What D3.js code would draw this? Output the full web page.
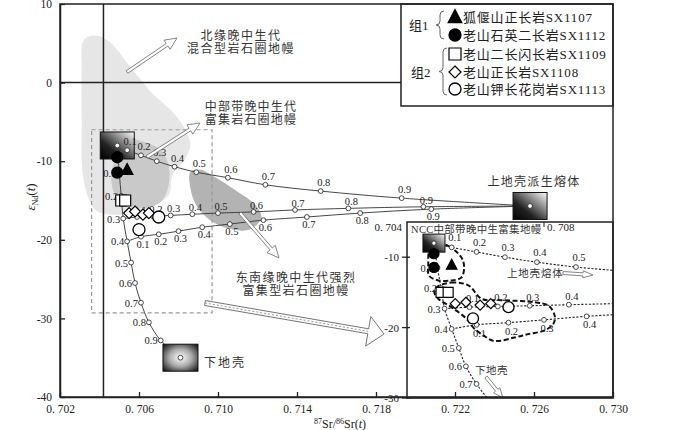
<!DOCTYPE html>
<html><head><meta charset="utf-8">
<script src="https://cdn.jsdelivr.net/npm/d3@7"></script>
<style>
body{margin:0;background:#fff;}
text{font-family:"Liberation Serif","Noto Sans CJK SC",serif;fill:#222;}
.cn{font-family:"Noto Sans CJK SC",sans-serif;fill:#333;}
</style></head><body>
<svg id="chart" width="700" height="430"></svg>
<script>
// end-members (87Sr/86Sr, eNd)
var emPt=[0.7049,-8.0], ucPt=[0.7258,-15.7], lcPt=[0.7081,-35.0];
var ratios=[0.1,0.2,0.3,0.4,0.5,0.6,0.7,0.8,0.9];
// EM -> upper crust melt
var lineA=[[0.7054,-8.6],[0.7061,-9.25],[0.7069,-10.0],[0.7078,-10.7],[0.7089,-11.4],[0.7105,-12.1],[0.7124,-13.0],[0.7152,-13.8],[0.7193,-14.7]];
// EM -> lower crust
var lineLC=[[0.7050,-11.5],[0.7051,-14.4],[0.7052,-17.3],[0.7054,-20.2],[0.7056,-22.9],[0.7058,-25.5],[0.7061,-28.0],[0.7065,-30.5],[0.7071,-32.8]];
// (LC 0.3) -> upper crust melt
var lineB=[[0.7059,-17.1],[0.7067,-17.0],[0.7076,-16.9],[0.7087,-16.75],[0.7100,-16.6],[0.7118,-16.45],[0.7139,-16.2],[0.7166,-16.0],[0.7204,-15.8]];
// (LC 0.4) -> upper crust melt
var lineC=[[0.7061,-19.6],[0.7070,-19.3],[0.7080,-18.9],[0.7092,-18.4],[0.7106,-18.0],[0.7123,-17.5],[0.7145,-17.1],[0.7172,-16.6],[0.7208,-16.1]];

// samples
var sx1107=[[0.7054,-11.1]];
var sx1112=[[0.7049,-9.5],[0.7049,-11.45]];
var sx1109=[[0.7051,-15.0],[0.7053,-15.0]];
var sx1108=[[0.7055,-16.6],[0.7058,-16.4],[0.7062,-16.8],[0.7065,-16.6]];
var sx1113=[[0.7070,-17.1],[0.7060,-18.7]];

// mantle fields
var fieldNorth=[[0.7032,5.4],[0.7038,6.0],[0.7045,5.2],[0.7055,2.2],[0.7066,-1.2],[0.7077,-3.75],[0.7083,-5.8],[0.7086,-7.9],[0.7083,-9.85],[0.7077,-11.75],[0.7075,-14.3],[0.7066,-15.8],[0.7050,-16.8],[0.7038,-16.2],[0.7032,-12.4],[0.7031,-4.8],[0.7031,1.6]];
var fieldCentral=[[0.7055,-7.3],[0.7063,-7.6],[0.7071,-8.6],[0.7075,-10.5],[0.7075,-13.0],[0.7072,-14.9],[0.7065,-15.9],[0.7055,-15.6],[0.7048,-14.3],[0.7046,-11.75],[0.7049,-9.2]];
var fieldSE=[[0.7086,-11.4],[0.7091,-11.1],[0.7099,-12.1],[0.7110,-13.9],[0.7119,-15.6],[0.7122,-17.2],[0.7116,-18.7],[0.7106,-18.6],[0.7096,-17.5],[0.7089,-15.6],[0.7086,-13.4]];
// group envelopes (inset)
var env1=[[0.70485,-8.0],[0.7053,-8.4],[0.70567,-10.0],[0.70575,-11.4],[0.70567,-12.9],[0.70539,-13.3],[0.70502,-13.3],[0.70476,-12.6],[0.70474,-10.9],[0.70476,-9.0]];
var env2=[[0.70496,-14.3],[0.70539,-13.6],[0.70587,-14.0],[0.70624,-15.9],[0.7068,-16.1],[0.70774,-16.4],[0.70813,-16.9],[0.7083,-18.3],[0.70827,-19.4],[0.70802,-20.4],[0.70757,-20.9],[0.70717,-21.4],[0.7066,-21.9],[0.70629,-21.1],[0.70601,-20.0],[0.70581,-18.7],[0.70539,-17.1],[0.70502,-15.9],[0.70491,-15.0]];

var boxX=[0.7036,0.7097], boxE=[-6.0,-29.3];
var xTicks=[0.702,0.706,0.710,0.714,0.718,0.722,0.726,0.730];
var yTicks=[-40,-30,-20,-10,0,10];
var yTicksInset=[-10,-20,-30];

var svg=d3.select("#chart");
var x=d3.scaleLinear().domain([0.702,0.730]).range([60,613]);
var y=d3.scaleLinear().domain([-40,10]).range([397,4]);
var xi=d3.scaleLinear().domain([0.704,0.708]).range([402,544]);
var yi=d3.scaleLinear().domain([-30,-5]).range([398,222]);

var defs=svg.append("defs");
function linGrad(id){
  var g=defs.append("linearGradient").attr("id",id).attr("x1",0).attr("y1",1).attr("x2",1).attr("y2",0);
  g.append("stop").attr("offset",0).attr("stop-color","#000");
  g.append("stop").attr("offset",0.35).attr("stop-color","#222");
  g.append("stop").attr("offset",1).attr("stop-color","#fff");
}
linGrad("gEM");
var rg=defs.append("radialGradient").attr("id","gLC").attr("r",0.72);
rg.append("stop").attr("offset",0).attr("stop-color","#fff");
rg.append("stop").attr("offset",0.45).attr("stop-color","#aaa");
rg.append("stop").attr("offset",1).attr("stop-color","#000");
defs.append("clipPath").attr("id","cMain").append("rect").attr("x",60).attr("y",4).attr("width",553).attr("height",393);
defs.append("clipPath").attr("id","cIn").append("rect").attr("x",407).attr("y",222).attr("width",206).attr("height",176);

var blob=function(sx,sy){return d3.line().x(d=>sx(d[0])).y(d=>sy(d[1])).curve(d3.curveCatmullRomClosed.alpha(0.5));};
var curve=function(sx,sy){return d3.line().x(d=>sx(d[0])).y(d=>sy(d[1])).curve(d3.curveCatmullRom.alpha(0.5));};

var main=svg.append("g").attr("clip-path","url(#cMain)");
main.append("path").attr("d",blob(x,y)(fieldNorth)).attr("fill","#e6e6e6");
main.append("path").attr("d",blob(x,y)(fieldCentral)).attr("fill","#c9c9c9");
main.append("path").attr("d",blob(x,y)(fieldSE)).attr("fill","#b3b3b3");

main.append("rect").attr("x",x(boxX[0])).attr("y",y(boxE[0])).attr("width",x(boxX[1])-x(boxX[0])).attr("height",y(boxE[1])-y(boxE[0]))
  .attr("fill","none").attr("stroke","#999").attr("stroke-width",1.2).attr("stroke-dasharray","4,3");

main.append("line").attr("x1",60).attr("x2",613).attr("y1",y(0)).attr("y2",y(0)).attr("stroke","#222").attr("stroke-width",1.5);
main.append("line").attr("x1",x(0.7042)).attr("x2",x(0.7042)).attr("y1",4).attr("y2",397).attr("stroke","#222").attr("stroke-width",1.5);

function hollowArrow(g,x1,y1,x2,y2,w,hl,hw,col){
  var dx=x2-x1,dy=y2-y1,L=Math.sqrt(dx*dx+dy*dy),ux=dx/L,uy=dy/L,nx=-uy,ny=ux;
  var bx=x2-ux*hl,by=y2-uy*hl;
  var p=[[x1+nx*w/2,y1+ny*w/2],[bx+nx*w/2,by+ny*w/2],[bx+nx*hw/2,by+ny*hw/2],[x2,y2],[bx-nx*hw/2,by-ny*hw/2],[bx-nx*w/2,by-ny*w/2],[x1-nx*w/2,y1-ny*w/2]];
  g.append("path").attr("d","M"+p.join("L")+"Z").attr("fill","#fff").attr("stroke",col||"#777").attr("stroke-width",0.9);
  return [bx,by];
}

function drawLines(g,sx,sy,style){
  var lg=curve(sx,sy);
  var sets=[[emPt].concat(lineA,[ucPt]),[emPt].concat(lineLC,[lcPt]),[lineLC[2]].concat(lineB,[ucPt]),[lineLC[3]].concat(lineC,[ucPt])];
  sets.forEach(function(s){
    g.append("path").attr("d",lg(s)).attr("fill","none").attr("stroke",style.col).attr("stroke-width",style.w).attr("stroke-dasharray",style.dash);
  });
}
function tag(g,sx,sy,pts,dx,dy,anchor,fs,box){
  pts.forEach(function(d,i){
    var cx=sx(d[0]),cy=sy(d[1]);
    if(box && (cx<box[0]||cx>box[1]||cy<box[2]||cy>box[3])) return;
    g.append("circle").attr("cx",cx).attr("cy",cy).attr("r",2.4).attr("fill","#fff").attr("stroke","#333").attr("stroke-width",0.9);
    g.append("text").attr("x",cx+dx).attr("y",cy+dy).attr("text-anchor",anchor).attr("font-size",fs).text(ratios[i]);
  });
}
function sym(g,type,cx,cy,s){
  var h=s/2;
  if(type=="dot"||type=="ring"){
    g.append("circle").attr("cx",cx).attr("cy",cy).attr("r",h).attr("fill",type=="dot"?"#000":"#fff").attr("stroke","#000").attr("stroke-width",1.3);
    return;
  }
  var p;
  if(type=="tri") p="M"+cx+","+(cy-h*1.15)+"L"+(cx+h*1.05)+","+(cy+h*0.85)+"L"+(cx-h*1.05)+","+(cy+h*0.85)+"Z";
  if(type=="sq") p="M"+(cx-h)+","+(cy-h)+"h"+s+"v"+s+"h"+(-s)+"Z";
  if(type=="dia") p="M"+cx+","+(cy-h)+"L"+(cx+h)+","+cy+"L"+cx+","+(cy+h)+"L"+(cx-h)+","+cy+"Z";
  g.append("path").attr("d",p).attr("fill",type=="tri"?"#000":"#fff").attr("stroke","#000").attr("stroke-width",1.2);
}
function samples(g,sx,sy,s){
  [["sq",sx1109],["dia",sx1108],["ring",sx1113],["dot",sx1112],["tri",sx1107]].forEach(function(t){
    t[1].forEach(function(d){ sym(g,t[0],sx(d[0]),sy(d[1]),t[0]=="ring"?s+1:s); });
  });
}

// main mixing lines
drawLines(main,x,y,{col:"#333",w:0.9,dash:null});
function endBox(g,cx,cy,w,h,fill){
  g.append("rect").attr("x",cx-w/2).attr("y",cy-h/2).attr("width",w).attr("height",h).attr("fill",fill).attr("stroke","#111").attr("stroke-width",1);
}
endBox(main,x(emPt[0]),y(emPt[1]),34,27,"url(#gEM)");
endBox(main,x(ucPt[0]),y(ucPt[1]),34,27,"url(#gEM)");
endBox(main,x(lcPt[0]),y(lcPt[1]),35,27,"url(#gLC)");
[emPt,ucPt,lcPt].forEach(function(d){
  main.append("circle").attr("cx",x(d[0])).attr("cy",y(d[1])).attr("r",2.4).attr("fill","#fff").attr("stroke","#333").attr("stroke-width",0.9);
});
tag(main,x,y,lineA,3,-5,"middle",10.5);
tag(main,x,y,lineB,3,-3,"middle",10.5);
tag(main,x,y,lineC,2,11,"middle",10.5);
tag(main,x,y,lineLC,-3,4,"end",10.5);
samples(main,x,y,11);

// annotations
function cnText(g,cx,by,str,fs,ls,anchor){
  g.append("text").attr("class","cn").attr("x",cx).attr("y",by).attr("text-anchor",anchor||"middle").attr("font-size",fs).attr("letter-spacing",ls).text(str);
}
var ann=svg.append("g");
cnText(ann,241,40,"北缘晚中生代",12,1.5);
cnText(ann,241,53,"混合型岩石圈地幔",12,1.5);
hollowArrow(ann,127,72,177,38,3,12,11);
cnText(ann,251,111,"中部带晚中生代",12,1.2);
cnText(ann,251,124,"富集岩石圈地幔",12,1.2);
hollowArrow(ann,147,157,200,123,3,12,11);
cnText(ann,296,282,"东南缘晚中生代强烈",12,1.4);
cnText(ann,296,295,"富集型岩石圈地幔",12,1.4);
hollowArrow(ann,240,213,279,258,3,12,11);
cnText(ann,534,186,"上地壳派生熔体",12,1.3);
cnText(ann,204,367,"下地壳",12,2,"start");
var b=hollowArrow(ann,205,303,384,334,5,16,30,"#666");
ann.append("line").attr("x1",205).attr("y1",303).attr("x2",b[0]).attr("y2",b[1]).attr("stroke","#999").attr("stroke-dasharray","2,2").attr("stroke-width",1);

// inset
var inset=svg.append("g");
inset.append("rect").attr("x",407).attr("y",222).attr("width",206).attr("height",176).attr("fill","#fff");
var ic=inset.append("g").attr("clip-path","url(#cIn)");
drawLines(ic,xi,yi,{col:"#222",w:1.1,dash:"2.2,1.6"});
[env1,env2].forEach(function(e){
  ic.append("path").attr("d",blob(xi,yi)(e)).attr("fill","none").attr("stroke","#111").attr("stroke-width",2).attr("stroke-dasharray","5,2.5");
});
endBox(ic,xi(emPt[0]),yi(emPt[1]),22,18,"url(#gEM)");
ic.append("circle").attr("cx",xi(emPt[0])).attr("cy",yi(emPt[1])).attr("r",2.2).attr("fill","#fff").attr("stroke","#333");
var ib=[407,613,222,398];
tag(ic,xi,yi,lineA,3,-6,"middle",10.5,ib);
tag(ic,xi,yi,lineB,3,-5,"middle",10.5,ib);
tag(ic,xi,yi,lineC,3,12,"middle",10.5,ib);
tag(ic,xi,yi,lineLC,-4,4,"end",10.5,ib);
samples(ic,xi,yi,10);
cnText(inset,411,233,"NCC中部带晚中生富集地幔",10.5,0.3,"start");
inset.select("text:last-child").style("font-family","'Liberation Serif','Noto Sans CJK SC'");
cnText(inset,507,277,"上地壳熔体",10.5,0.8,"start");
hollowArrow(inset,563,273,593,275,3,10,7);
cnText(inset,475,374,"下地壳",10.5,0.5,"start");
hollowArrow(inset,486,377,503,398,3,10,8);
inset.append("rect").attr("x",407).attr("y",222).attr("width",206).attr("height",176).attr("fill","none").attr("stroke","#222").attr("stroke-width",1.5);
yTicksInset.forEach(function(t){
  inset.append("line").attr("x1",402).attr("x2",410).attr("y1",yi(t)).attr("y2",yi(t)).attr("stroke","#222").attr("stroke-width",1.3);
  inset.append("text").attr("x",399).attr("y",yi(t)+4).attr("text-anchor","end").attr("font-size",11).text(t);
});
inset.append("line").attr("x1",xi(0.708)).attr("x2",xi(0.708)).attr("y1",222).attr("y2",227).attr("stroke","#222");
inset.append("text").attr("x",xi(0.704)).attr("y",231).attr("text-anchor","end").attr("font-size",11).text("0. 704");
inset.append("text").attr("x",xi(0.708)+3).attr("y",231).attr("font-size",11).text("0. 708");

// legend
var legendItems=[["tri","狐偃山正长岩SX1107"],["dot","老山石英二长岩SX1112"],["sq","老山二长闪长岩SX1109"],["dia","老山正长岩SX1108"],["ring","老山钾长花岗岩SX1113"]];
var lg=svg.append("g");
lg.append("rect").attr("x",401).attr("y",4).attr("width",212).attr("height",102).attr("fill","#fff").attr("stroke","#222").attr("stroke-width",1.5);
var rowY=[17,35,54,72,89];
legendItems.forEach(function(it,i){
  sym(lg,it[0],455,rowY[i],it[0]=="tri"?13:12);
  lg.append("text").attr("x",463).attr("y",rowY[i]+5).attr("font-size",13).attr("letter-spacing",0.8).text(it[1]);
});
function brace(g,bx,y1,y2,d){
  var ym=(y1+y2)/2;
  var p="M"+(bx+d)+","+y1+"Q"+bx+","+y1+" "+bx+","+(y1+d)+"L"+bx+","+(ym-d)+"Q"+bx+","+ym+" "+(bx-d)+","+ym+
        "Q"+bx+","+ym+" "+bx+","+(ym+d)+"L"+bx+","+(y2-d)+"Q"+bx+","+y2+" "+(bx+d)+","+y2;
  g.append("path").attr("d",p).attr("fill","none").attr("stroke","#666").attr("stroke-width",1);
}
brace(lg,440,11,39,4);
brace(lg,443,48,95,4);
lg.append("text").attr("x",409).attr("y",30).attr("font-size",13).text("组1");
lg.append("text").attr("x",411).attr("y",77).attr("font-size",13).text("组2");

// axes and frame
svg.append("rect").attr("x",60).attr("y",4).attr("width",553).attr("height",393).attr("fill","none").attr("stroke","#222").attr("stroke-width",1.5);
var xa=svg.append("g").attr("transform","translate(0,397)")
  .call(d3.axisBottom(x).tickValues(xTicks).tickSizeInner(-5).tickSizeOuter(0).tickPadding(8).tickFormat(d=>"0. "+d3.format(".3f")(d).slice(2)));
var ya=svg.append("g").attr("transform","translate(60,0)")
  .call(d3.axisLeft(y).tickValues(yTicks).tickSizeInner(-5).tickSizeOuter(0).tickPadding(8).tickFormat(d=>String(d)));
[xa,ya].forEach(function(a){
  a.select(".domain").attr("stroke","#222").attr("stroke-width",1.5);
  a.selectAll(".tick line").attr("stroke","#222").attr("stroke-width",1.3);
  a.selectAll("text").attr("font-family","Liberation Serif").attr("font-size",11.5).attr("fill","#222");
});

var xt=svg.append("text").attr("x",340).attr("y",428).attr("text-anchor","middle").attr("font-size",12);
xt.append("tspan").attr("font-size",8).attr("dy",-4).text("87");
xt.append("tspan").attr("dy",4).text("Sr/");
xt.append("tspan").attr("font-size",8).attr("dy",-4).text("86");
xt.append("tspan").attr("dy",4).text("Sr(");
xt.append("tspan").attr("font-style","italic").text("t");
xt.append("tspan").text(")");
var yt=svg.append("text").attr("transform","translate(35,197) rotate(-90)").attr("text-anchor","middle").attr("font-size",13);
yt.append("tspan").attr("font-style","italic").text("ε");
yt.append("tspan").attr("font-size",8).attr("dy",3).text("Nd");
yt.append("tspan").attr("dy",-3).text("(");
yt.append("tspan").attr("font-style","italic").text("t");
yt.append("tspan").text(")");
</script>
</body></html>
